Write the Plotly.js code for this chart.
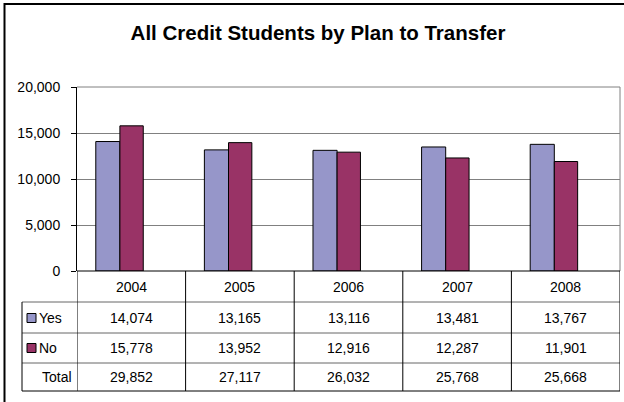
<!DOCTYPE html>
<html>
<head>
<meta charset="utf-8">
<script src="https://cdn.plot.ly/plotly-3.0.1.min.js"></script>
<style>html,body{margin:0;padding:0;background:#fff;}#chart{width:624px;height:402px;}</style>
</head>
<body>
<div id="chart"></div>
<script>
const categories = ['2004', '2005', '2006', '2007', '2008'];
const yesValues = [14074, 13165, 13116, 13481, 13767];
const noValues = [15778, 13952, 12916, 12287, 11901];
const totalValues = [29852, 27117, 26032, 25768, 25668];
const seriesNames = ['Yes', 'No'];
const totalLabel = 'Total';
const titleText = 'All Credit Students by Plan to Transfer';

const W = 624, H = 402;
const L = 77, R = 620, T = 87, B = 271;
const px = v => (v - L) / (R - L);
const py = v => (B - v) / (B - T);
const FONT = 'Liberation Sans, Arial, sans-serif';
const fmt = n => n.toString().replace(/\B(?=(\d{3})+(?!\d))/g, ',');
const yesColor = '#9696C9', noColor = '#993366';

const traces = [
  {type: 'bar', name: seriesNames[0], x: categories, y: yesValues, width: 0.222, offset: -0.327,
   marker: {color: yesColor, line: {color: '#000', width: 1}}, hoverinfo: 'y'},
  {type: 'bar', name: seriesNames[1], x: categories, y: noValues, width: 0.215, offset: -0.105,
   marker: {color: noColor, line: {color: '#000', width: 1}}, hoverinfo: 'y'}
];

const shapes = [];
const ann = [];
// outer border
shapes.push({type: 'rect', xref: 'paper', yref: 'paper', x0: px(4.5), x1: px(640), y0: py(4), y1: py(420), line: {color: '#000', width: 2}});
// plot area top & right borders
shapes.push({type: 'line', xref: 'paper', yref: 'paper', x0: 0, x1: 1, y0: 1, y1: 1, line: {color: '#808080', width: 1}});
shapes.push({type: 'line', xref: 'paper', yref: 'paper', x0: 1, x1: 1, y0: 0, y1: 1, line: {color: '#808080', width: 1}});
// table horizontal lines
shapes.push({type: 'line', xref: 'paper', yref: 'paper', x0: 0, x1: 1, y0: py(271), y1: py(271), line: {color: '#000', width: 1}});
[302, 333, 363].forEach(yy => shapes.push({type: 'line', xref: 'paper', yref: 'paper', x0: px(22), x1: 1, y0: py(yy), y1: py(yy), line: {color: '#666', width: 1}}));
shapes.push({type: 'line', xref: 'paper', yref: 'paper', x0: px(22), x1: 1, y0: py(391), y1: py(391), line: {color: '#000', width: 1}});
// table vertical lines
for (let i = 0; i <= categories.length; i++) {
  shapes.push({type: 'line', xref: 'x', yref: 'paper', x0: i - 0.5, x1: i - 0.5, y0: py(271), y1: py(391), line: {color: '#000', width: 1}});
}
shapes.push({type: 'line', xref: 'paper', yref: 'paper', x0: px(22), x1: px(22), y0: py(302), y1: py(391), line: {color: '#000', width: 1}});

const cellFont = {family: FONT, size: 14, color: '#000'};
const rows = [
  {y: 287, vals: categories},
  {y: 318, vals: yesValues.map(fmt)},
  {y: 348, vals: noValues.map(fmt)},
  {y: 377, vals: totalValues.map(fmt)}
];
rows.forEach(r => r.vals.forEach((v, i) => ann.push({xref: 'x', yref: 'paper', x: i, y: py(r.y), text: v, showarrow: false, font: cellFont, xanchor: 'center', yanchor: 'middle'})));
// legend keys
[[318, yesColor, seriesNames[0]], [348, noColor, seriesNames[1]]].forEach(([yy, c, name]) => {
  shapes.push({type: 'rect', xref: 'paper', yref: 'paper', x0: px(27), x1: px(36), y0: py(yy - 4.5), y1: py(yy + 4.5), fillcolor: c, line: {color: '#000', width: 1}});
  ann.push({xref: 'paper', yref: 'paper', x: px(37), y: py(yy), text: name, showarrow: false, font: cellFont, xanchor: 'left', yanchor: 'middle'});
});
ann.push({xref: 'paper', yref: 'paper', x: px(74), y: py(377), text: totalLabel, showarrow: false, font: cellFont, xanchor: 'right', yanchor: 'middle'});

const layout = {
  width: W, height: H,
  margin: {l: L, r: W - R, t: T, b: H - B, pad: 0},
  paper_bgcolor: '#fff', plot_bgcolor: '#fff',
  title: {text: '<b>' + titleText + '</b>', font: {family: FONT, size: 20.5, color: '#000'}, x: 318 / W, xref: 'container', xanchor: 'center', y: 1 - 33 / H, yref: 'container', yanchor: 'middle'},
  showlegend: false,
  barmode: 'overlay',
  xaxis: {type: 'category', range: [-0.5, 4.5], showticklabels: false, showgrid: false, zeroline: false, showline: false, ticks: '', fixedrange: true},
  yaxis: {range: [0, 20000], tick0: 0, dtick: 5000, tickformat: ',d', showgrid: true, gridcolor: '#808080', gridwidth: 1,
    zeroline: false, showline: true, linecolor: '#000', linewidth: 1, ticks: 'outside', ticklen: 5, tickcolor: '#000',
    ticklabelstandoff: 8, tickfont: {family: FONT, size: 14, color: '#000'}, fixedrange: true},
  shapes: shapes,
  annotations: ann
};
Plotly.newPlot('chart', traces, layout, {displayModeBar: false, staticPlot: true});
</script>
</body>
</html>
